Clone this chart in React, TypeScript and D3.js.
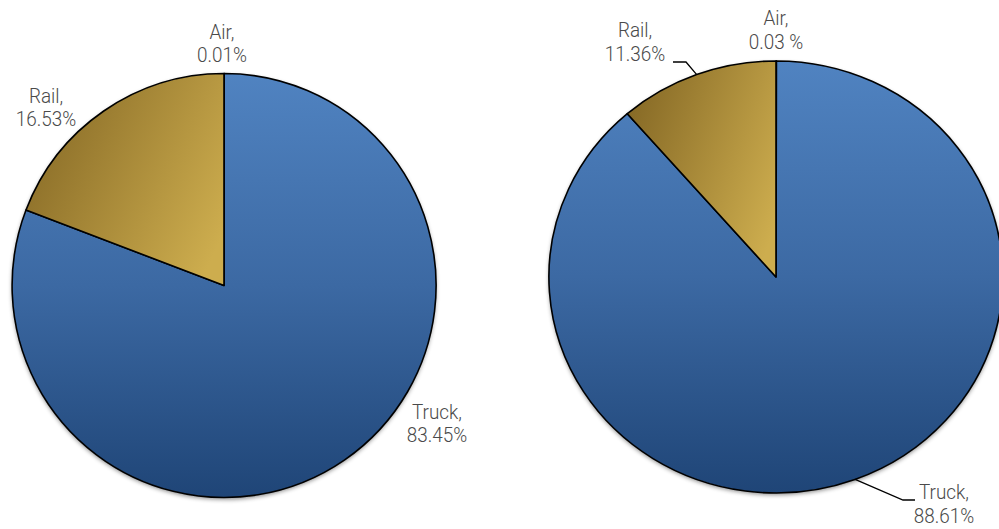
import React from "react";
import * as d3 from "d3";

// Slice order, clockwise from 12 o'clock
const categories = ["Air", "Truck", "Rail"];

const leftLabels = ["0.01%", "83.45%", "16.53%"];
const leftValues = [0.01, 80.79, 19.2];

// Right pie
const rightLabels = ["0.03 %", "88.61%", "11.36%"];
const rightValues = [0.03, 88.61, 11.36];

const W = 999;
const H = 529;

type LabelPos = { dx: number; dy: number; leader?: [number, number][] };

const leftLayout: Record<string, LabelPos> = {
  Air: { dx: -2, dy: -247 },
  Truck: { dx: 213, dy: 133 },
  Rail: { dx: -178, dy: -183 },
};
const rightLayout: Record<string, LabelPos> = {
  Air: { dx: 0, dy: -252 },
  Truck: { dx: 168, dy: 222, leader: [[903, 500], [915, 500]] },
  Rail: { dx: -141, dy: -240, leader: [[686, 62], [673, 62]] },
};

const FONT = "Roboto, 'Open Sans', sans-serif";

function Pie({
  id, cx, cy, rx, ry, values, labels, layout,
}: {
  id: string; cx: number; cy: number; rx: number; ry: number;
  values: number[]; labels: string[]; layout: Record<string, LabelPos>;
}) {
  const data = categories.map((c, i) => ({ c, v: values[i], label: labels[i] }));
  const pie = d3.pie<any>().value((d) => d.v).sort(null).startAngle(0).endAngle(2 * Math.PI);
  const arcs = pie(data);
  const arc = d3.arc<any>().innerRadius(0).outerRadius(1);
  const fillFor = (c: string) => (c === "Rail" ? `url(#${id}-gold)` : `url(#${id}-blue)`);
  return (
    <g>
      <defs>
        <linearGradient id={`${id}-blue`} x1="0" y1={-1} x2="0" y2={1} gradientUnits="userSpaceOnUse">
          <stop offset="0" stopColor="#5083c1" />
          <stop offset="0.5" stopColor="#3c69a3" />
          <stop offset="1" stopColor="#1f4577" />
        </linearGradient>
        <linearGradient id={`${id}-gold`} x1="0" y1="0.25" x2="1" y2="0.75">
          <stop offset="0" stopColor="#876a26" />
          <stop offset="1" stopColor="#cdad4e" />
        </linearGradient>
        <filter id={`${id}-shadow`} x="-10%" y="-10%" width="120%" height="125%">
          <feDropShadow dx="0" dy="2" stdDeviation="2" floodColor="#000" floodOpacity="0.45" />
        </filter>
      </defs>
      <ellipse cx={cx} cy={cy} rx={rx} ry={ry} fill="#fff" filter={`url(#${id}-shadow)`} />
      <g transform={`translate(${cx},${cy}) scale(${rx},${ry})`}>
        {arcs.map((a, i) => (
          <path
            key={i}
            d={arc(a) || ""}
            fill={fillFor(a.data.c)}
            stroke="#000"
            strokeWidth={1.6}
            strokeLinejoin="round"
            vectorEffect="non-scaling-stroke"
          />
        ))}
      </g>
      {arcs.map((a, i) => {
        const lp = layout[a.data.c];
        const x = cx + lp.dx;
        const y = cy + lp.dy;
        const mid = (a.startAngle + a.endAngle) / 2;
        const ex = cx + rx * Math.sin(mid);
        const ey = cy - ry * Math.cos(mid);
        return (
          <g key={"l" + i}>
            {lp.leader && (
              <polyline
                points={[[ex, ey], ...lp.leader].map((p) => p.join(",")).join(" ")}
                fill="none"
                stroke="#000"
                strokeWidth={1.3}
              />
            )}
            <text
              x={0}
              y={0}
              transform={`translate(${x},${y}) scale(0.9,1)`}
              textAnchor="middle"
              fontFamily={FONT}
              fontWeight={300}
              fontSize={21}
              fill="#4a4a4a"
            >
              <tspan x={0} dy={0}>{a.data.c + ","}</tspan>
              <tspan x={0} dy={24}>{a.data.label}</tspan>
            </text>
          </g>
        );
      })}
    </g>
  );
}

export default function App() {
  return (
    <svg
      width={W}
      height={H}
      viewBox={`0 0 ${W} ${H}`}
      style={{ position: "absolute", left: 0, top: 0, background: "#fff" }}
    >
      <rect width={W} height={H} fill="#fff" />
      <Pie id="lp" cx={224} cy={285.5} rx={212} ry={212} values={leftValues} labels={leftLabels} layout={leftLayout} />
      <Pie id="rp" cx={776} cy={277} rx={227} ry={216} values={rightValues} labels={rightLabels} layout={rightLayout} />
    </svg>
  );
}
